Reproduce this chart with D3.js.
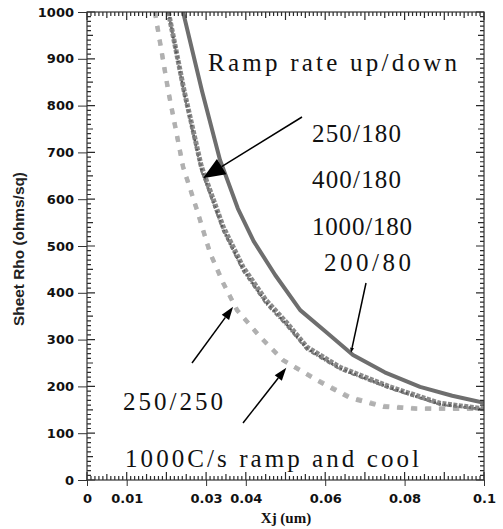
<!DOCTYPE html>
<html>
<head>
<meta charset="utf-8">
<script src="https://cdn.jsdelivr.net/npm/d3@7"></script>
<style>
  body { margin: 0; background: #fff; }
</style>
</head>
<body>
<script>
// sheet rho vs junction depth
var xj200_80  = [0.0242, 0.0290, 0.0335, 0.0380, 0.0420, 0.0474, 0.0537, 0.0600, 0.0670, 0.0750, 0.0839, 0.0920, 0.1000];
var rho200_80 = [1000, 830, 684, 580, 510, 438, 363, 318, 267, 230, 199, 180, 165];

var xj180     = [0.0205, 0.0245, 0.0288, 0.0343, 0.0393, 0.0450, 0.0504, 0.0554, 0.0637, 0.0763, 0.0889, 0.1000];
var rho250_180  = [1000, 830, 670, 541, 455, 385, 335, 284, 241, 199, 164, 152];
var rho400_180  = [1000, 826, 664, 535, 450, 380, 331, 281, 238, 197, 162, 151];
var rho1000_180 = [1000, 822, 660, 531, 446, 377, 328, 278, 236, 195, 161, 150];

var xjCool    = [0.0171, 0.0205, 0.0242, 0.0277, 0.0310, 0.0343, 0.0378, 0.0436, 0.0494, 0.0580, 0.0662, 0.0746, 0.0830, 0.1000];
var rho250_250 = [1000, 830, 669, 577, 485, 421, 363, 306, 256, 214, 177, 158, 153, 152];
var rhoCool    = [1000, 830, 669, 577, 485, 421, 363, 306, 256, 212, 175, 156, 152, 152];

var xTickVals = [0, 0.01, 0.03, 0.04, 0.06, 0.08, 0.1];
var yTickVals = [0, 100, 200, 300, 400, 500, 600, 700, 800, 900, 1000];

var w = 503;
var h = 529;
var plotL = 87, plotR = 484, plotT = 12, plotB = 480;

var svg = d3.select("body")
            .append("svg")
            .attr("width", w)
            .attr("height", h);

var x = d3.scaleLinear().domain([0, 0.1]).range([plotL, plotR]);
var y = d3.scaleLinear().domain([0, 1000]).range([plotB, plotT]);

svg.append("clipPath").attr("id", "plot")
   .append("rect")
   .attr("x", plotL).attr("y", plotT)
   .attr("width", plotR - plotL).attr("height", plotB - plotT);

function zip(xs, ys) {
  return xs.map(function(d, i) { return [d, ys[i]]; });
}

var line = d3.line()
  .x(function(d) { return x(d[0]); })
  .y(function(d) { return y(d[1]); });

var g = svg.append("g").attr("clip-path", "url(#plot)");

// light dashed: 250/250 and 1000C/s ramp and cool
g.append("path").attr("d", line(zip(xjCool, rho250_250)))
  .attr("fill", "none").attr("stroke", "#bdbdbd").attr("stroke-width", 4.5)
  .attr("stroke-dasharray", "6,8");
g.append("path").attr("d", line(zip(xjCool, rhoCool)))
  .attr("fill", "none").attr("stroke", "#b0b0b0").attr("stroke-width", 4)
  .attr("stroke-dasharray", "6,8");

// x/180 band
g.append("path").attr("d", line(zip(xj180, rho250_180)))
  .attr("fill", "none").attr("stroke", "#8a8a8a").attr("stroke-width", 5)
  .attr("stroke-dasharray", "4,1.5");
g.append("path").attr("d", line(zip(xj180, rho400_180)))
  .attr("fill", "none").attr("stroke", "#555").attr("stroke-width", 2.5)
  .attr("stroke-dasharray", "2,3");
g.append("path").attr("d", line(zip(xj180, rho1000_180)))
  .attr("fill", "none").attr("stroke", "#7a7a7a").attr("stroke-width", 2)
  .attr("stroke-dasharray", "4,2,1,2");

// 200/80 solid
g.append("path").attr("d", line(zip(xj200_80, rho200_80)))
  .attr("fill", "none").attr("stroke", "#6e6e6e").attr("stroke-width", 4)
  .attr("stroke-linejoin", "round");

// small inward ticks on all four sides, one path
function tickLen(i) { return i % 10 === 0 ? 8 : (i % 5 === 0 ? 6 : 4); }
var tp = "";
for (var i = 0; i <= 100; i++) {
  var ty = y(i * 10), tx = x(i / 1000), n = tickLen(i);
  tp += "M" + plotL + "," + ty + "h" + n;
  tp += "M" + plotR + "," + ty + "h" + (-n);
  tp += "M" + tx + "," + plotB + "v" + (-n);
  tp += "M" + tx + "," + plotT + "v" + n;
}
svg.append("path")
   .attr("d", tp)
   .attr("fill", "none")
   .attr("stroke", "#2a2a2a")
   .attr("stroke-width", 1.2);

// labelled axes with short outward marks
var yAxis = svg.append("g")
  .attr("transform", "translate(" + plotL + ",0)")
  .call(d3.axisLeft(y).tickValues(yTickVals).tickSize(9).tickPadding(4)
        .tickFormat(d3.format("d")));
var xAxis = svg.append("g")
  .attr("transform", "translate(0," + plotB + ")")
  .call(d3.axisBottom(x).tickValues(xTickVals).tickSize(6).tickPadding(8)
        .tickFormat(function(d) { return d === 0 ? "0" : String(+d.toFixed(2)); }));
[yAxis, xAxis].forEach(function(a) {
  a.select(".domain").remove();
  a.selectAll("line").attr("stroke", "#333");
  a.selectAll("text")
   .attr("font-family", "DejaVu Sans")
   .attr("font-weight", "bold")
   .attr("font-size", "13px")
   .attr("fill", "#111");
});

svg.append("rect")
   .attr("x", plotL).attr("y", plotT)
   .attr("width", plotR - plotL).attr("height", plotB - plotT)
   .attr("fill", "none").attr("stroke", "#333").attr("stroke-width", 1.2);

// axis titles
svg.append("text")
   .text("Sheet Rho (ohms/sq)")
   .attr("transform", "translate(24,249) rotate(-90)")
   .attr("text-anchor", "middle")
   .attr("font-family", "Liberation Sans")
   .attr("font-weight", "bold")
   .attr("font-size", "15px")
   .attr("textLength", 154)
   .attr("lengthAdjust", "spacingAndGlyphs")
   .attr("fill", "#222");

svg.append("text")
   .text("Xj (um)")
   .attr("x", 286).attr("y", 523)
   .attr("text-anchor", "middle")
   .attr("font-family", "Liberation Serif")
   .attr("font-weight", "bold")
   .attr("font-size", "15px")
   .attr("fill", "#111");

// annotations
var notes = [
  {t: "Ramp rate up/down", x: 208, y: 71, len: 249},
  {t: "250/180", x: 312, y: 142, len: 89},
  {t: "400/180", x: 312, y: 188, len: 89},
  {t: "1000/180", x: 312, y: 235, len: 100},
  {t: "200/80", x: 324, y: 271, len: 87},
  {t: "250/250", x: 123, y: 410, len: 100},
  {t: "1000C/s ramp and cool", x: 125, y: 467, len: 294}
];
svg.selectAll("text.note")
   .data(notes)
   .enter()
   .append("text")
   .attr("class", "note")
   .text(function(d) { return d.t; })
   .attr("x", function(d) { return d.x; })
   .attr("y", function(d) { return d.y; })
   .attr("textLength", function(d) { return d.len; })
   .attr("lengthAdjust", "spacing")
   .attr("font-family", "Liberation Serif")
   .attr("font-size", "25px")
   .attr("fill", "#111");

// arrows: [from x, from y, to xj, to rho, head length, head width]
var arrows = [
  [302, 117, 0.0292, 645, 22, 18],
  [366, 283, 0.0665, 272, 5, 4],
  [192, 363, 0.0368, 370, 13, 9],
  [243, 423, 0.0502, 240, 13, 9]
];
arrows.forEach(function(a) {
  var x1 = a[0], y1 = a[1], x2 = x(a[2]), y2 = y(a[3]);
  var ang = Math.atan2(y2 - y1, x2 - x1);
  var bx = x2 - a[4] * Math.cos(ang), by = y2 - a[4] * Math.sin(ang);
  svg.append("line")
     .attr("x1", x1).attr("y1", y1).attr("x2", bx).attr("y2", by)
     .attr("stroke", "#000").attr("stroke-width", 1.5);
  var px = Math.sin(ang) * a[5] / 2, py = -Math.cos(ang) * a[5] / 2;
  svg.append("path")
     .attr("d", "M" + x2 + "," + y2 + "L" + (bx + px) + "," + (by + py) + "L" + (bx - px) + "," + (by - py) + "Z")
     .attr("fill", "#000");
});
</script>
</body>
</html>
